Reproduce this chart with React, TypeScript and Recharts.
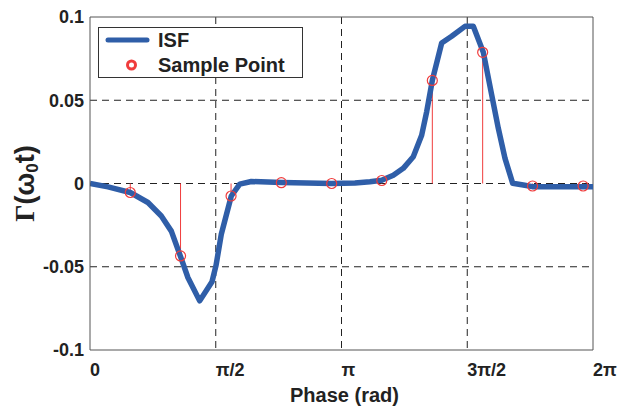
import React from 'react'
import {
  ComposedChart,
  Line,
  Scatter,
  XAxis,
  YAxis,
  CartesianGrid,
  ReferenceLine,
  Legend,
} from 'recharts'

const PI = Math.PI

// ISF curve over one oscillation period
const isfPhase = [
  0, 0.225, 0.503, 0.724, 0.891, 1.016, 1.128, 1.224, 1.37, 1.524, 1.575, 1.64, 1.765, 1.87,
  2.015, 2.394, 3.019, 3.31, 3.497, 3.643, 3.789, 3.913, 4.038, 4.143, 4.206, 4.276, 4.393,
  4.518, 4.684, 4.788, 4.913, 5.018, 5.1, 5.184, 5.28, 5.412, 5.525, 6.283,
]
const isfValue = [
  0, -0.002, -0.0054, -0.0114, -0.0195, -0.0286, -0.0435, -0.0566, -0.0705, -0.059, -0.049,
  -0.0305, -0.0075, -0.0004, 0.0012, 0.0006, 0.0, 0.0003, 0.0011, 0.002, 0.005, 0.0091, 0.0161,
  0.029, 0.0432, 0.0619, 0.0844, 0.0884, 0.0944, 0.0944, 0.0788, 0.0532, 0.0332, 0.0151, 0.0001,
  -0.0009, -0.0019, -0.002,
]

// sampled values (stem plot)
const samplePhase = [0.503, 1.131, 1.762, 2.39, 3.019, 3.645, 4.276, 4.905, 5.528, 6.16]
const sampleValue = [-0.0054, -0.0435, -0.0075, 0.0005, 0.0, 0.0018, 0.0619, 0.0788, -0.0015, -0.0015]

const xTicks = [0, PI / 2, PI, (3 * PI) / 2, 2 * PI]
const xTickLabels = ['0', 'π/2', 'π', '3π/2', '2π']
const yTicks = [-0.1, -0.05, 0, 0.05, 0.1]
const yTickLabels = ['-0.1', '-0.05', '0', '0.05', '0.1']

const isfData = isfPhase.map((x, i) => ({ x, isf: isfValue[i] }))
const sampleData = samplePhase.map((x, i) => ({ x, sample: sampleValue[i] }))

const FONT = '"Liberation Sans", Arial, Helvetica, sans-serif'
const BLUE = '#2f5ea8'
const RED = '#f03c3c'
const AXIS = '#555'

const nearest = (ticks: number[], v: number) => ticks.findIndex((t) => Math.abs(t - v) < 1e-6)

const XTick = ({ x, y, payload }: any) => (
  <text x={x} y={y} dy="0.71em" textAnchor="start" fontFamily={FONT} fontWeight="bold" fontSize={18} fill="#222">
    {xTickLabels[nearest(xTicks, payload.value)]}
  </text>
)

const YTitle = ({ viewBox }: any) => {
  const cx = viewBox.x - 5
  const cy = viewBox.y + viewBox.height / 2
  return (
    <text
      x={cx}
      y={cy}
      transform={`rotate(-90, ${cx}, ${cy})`}
      textAnchor="middle"
      dominantBaseline="central"
      fontFamily={FONT}
      fontWeight="bold"
      fontSize={27}
      fill="#222"
    >
      <tspan fontFamily='"Liberation Serif", "Times New Roman", serif'>Γ</tspan>
      <tspan>(ω</tspan>
      <tspan fontSize={17} dy={7}>0</tspan>
      <tspan dy={-7}>t)</tspan>
    </text>
  )
}

const XTitle = ({ viewBox }: any) => (
  <text
    x={viewBox.x + viewBox.width / 2 + 3}
    y={viewBox.y + 52}
    textAnchor="middle"
    fontFamily={FONT}
    fontWeight="bold"
    fontSize={20}
    fill="#222"
  >
    Phase (rad)
  </text>
)

const LegendBox = ({ payload }: any) => (
  <svg width={205} height={51} style={{ display: 'block' }}>
    <rect x={0.5} y={0.5} width={204} height={50} fill="#fff" stroke="#333" strokeWidth={1} />
    {(payload || []).map((entry: any, i: number) => {
      const cy = 13 + i * 25
      return (
        <g key={entry.value}>
          {entry.type === 'line' ? (
            <line x1={10} x2={49} y1={cy} y2={cy} stroke={BLUE} strokeWidth={5} strokeLinecap="round" />
          ) : (
            <circle cx={33.5} cy={cy} r={4} fill="none" stroke={RED} strokeWidth={3} />
          )}
          <text x={60} y={cy + 7} fontFamily={FONT} fontWeight="bold" fontSize={20} fill="#222">
            {entry.value}
          </text>
        </g>
      )
    })}
  </svg>
)

const SampleMarker = ({ cx, cy }: any) => (
  <circle cx={cx} cy={cy} r={5} fill="none" stroke={RED} strokeWidth={1.2} />
)

export default function App() {
  return (
    <div style={{ position: 'absolute', left: 0, top: 0, background: '#fff' }}>
      <ComposedChart width={626} height={416} margin={{ top: 17, right: 33, bottom: 26, left: 30 }}>
        <CartesianGrid
          stroke="#222"
          strokeWidth={1}
          strokeDasharray="7 5"
          horizontalValues={[-0.05, 0, 0.05]}
          verticalValues={[PI / 2, PI, (3 * PI) / 2]}
        />
        <XAxis
          dataKey="x"
          type="number"
          domain={[0, 2 * PI]}
          ticks={xTicks}
          interval={0}
          allowDataOverflow
          height={40}
          tickSize={0}
          tickMargin={13}
          tick={<XTick />}
          axisLine={{ stroke: AXIS }}
          label={(props: any) => <XTitle {...props} />}
        />
        <YAxis
          type="number"
          domain={[-0.1, 0.1]}
          ticks={yTicks}
          interval={0}
          allowDataOverflow
          width={60}
          tickSize={0}
          tickMargin={6}
          tickFormatter={(v: number) => yTickLabels[nearest(yTicks, v)]}
          tick={{ fontFamily: FONT, fontWeight: 'bold', fontSize: 18, fill: '#222' }}
          axisLine={{ stroke: AXIS }}
          label={(props: any) => <YTitle {...props} />}
        />
        <ReferenceLine y={0.1} stroke={AXIS} />
        <ReferenceLine x={2 * PI} stroke={AXIS} />
        {sampleData.map((d) => (
          <ReferenceLine
            key={d.x}
            segment={[
              { x: d.x, y: 0 },
              { x: d.x, y: d.sample },
            ]}
            stroke={RED}
            strokeWidth={1}
          />
        ))}
        <Line
          data={isfData}
          dataKey="isf"
          name="ISF"
          type="linear"
          stroke={BLUE}
          strokeWidth={5.5}
          strokeLinejoin="round"
          dot={false}
          legendType="line"
          isAnimationActive={false}
        />
        <Scatter
          data={sampleData}
          dataKey="sample"
          name="Sample Point"
          shape={<SampleMarker />}
          legendType="circle"
          isAnimationActive={false}
        />
        <Legend
          layout="vertical"
          align="center"
          verticalAlign="middle"
          content={<LegendBox />}
          wrapperStyle={{ left: 98, top: 27, width: 205, height: 51 }}
        />
      </ComposedChart>
    </div>
  )
}
